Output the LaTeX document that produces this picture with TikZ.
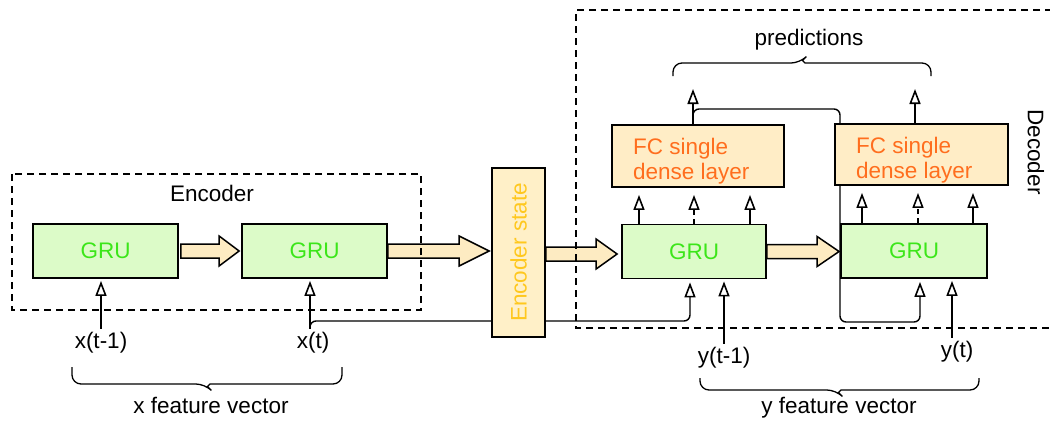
\documentclass[tikz,border=0pt]{standalone}
\usepackage{fontspec}
\setmainfont{Liberation Sans}
\usetikzlibrary{arrows.meta,calc}

\definecolor{grufill}{HTML}{DCFBC8}
\definecolor{grutext}{HTML}{3CE61A}
\definecolor{fcfill}{HTML}{FFEDC6}
\definecolor{fctext}{HTML}{FF6E1E}
\definecolor{esfill}{HTML}{FFF0C8}
\definecolor{estext}{HTML}{FFC81E}
\definecolor{fatfill}{HTML}{FDEBC2}

\tikzset{
  gru/.style={draw, line width=1.8pt, fill=grufill, text=grutext,
    minimum width=145pt, minimum height=54pt, inner sep=0pt},
  fcbox/.style={draw, line width=1.8pt, fill=fcfill,
    minimum width=172pt, minimum height=62pt, inner sep=0pt},
  fctxt/.style={text=fctext, align=left, anchor=west, inner sep=0pt,
    font=\fontsize{22.5}{25}\selectfont},
  esbox/.style={draw, line width=1.8pt, fill=esfill,
    minimum width=53pt, minimum height=169pt, inner sep=0pt},
  region/.style={draw, line width=1.4pt, dash pattern=on 7pt off 5pt},
  feed/.style={line width=1.4pt, -{Triangle[open,length=15pt,width=11pt,line width=1.6pt]}},
  feeddash/.style={feed, dash pattern=on 5pt off 4pt},
  fat/.style={draw, line width=1.5pt, fill=fatfill, line join=miter},
  bracket/.style={draw, line width=1.3pt},
  lbl/.style={text=black},
}

% thick block arrow: start, end, head length
\newcommand\fatarrow[3]{%
  \path[fat] let \p1=(#1), \p2=(#2) in
    (\x1,\y1+7pt) -- (\x2-#3,\y1+7pt) -- (\x2-#3,\y1+15pt) -- (\x2,\y1)
    -- (\x2-#3,\y1-15pt) -- (\x2-#3,\y1-7pt) -- (\x1,\y1-7pt) -- cycle;}

\begin{document}
\begin{tikzpicture}[x=1pt, y=-1pt, font=\fontsize{22.5}{26}\selectfont]
\useasboundingbox (0,0) rectangle (1050,424);

% ---- inputs and output labels
\node[lbl] (x1) at (101,343) {x(t-1)};
\node[lbl] (xt) at (313,343) {x(t)};
\node[lbl] (y1) at (724,358) {y(t-1)};
\node[lbl] (yt) at (957,352) {y(t)};

\coordinate (p1) at (693,89);
\coordinate (p2) at (915,89);

% ---- geometry of the blocks (placed first so lines can refer to them)
\path (105.5,251) node[gru, draw=none, fill=none, text opacity=0] (g1) {GRU};
\path (314.5,251) node[gru, draw=none, fill=none, text opacity=0] (g2) {GRU};
\path (518.5,252.5) node[esbox, draw=none, fill=none] (es) {};
\path (694,251.5) node[gru, minimum width=144pt, draw=none, fill=none, text opacity=0] (d1) {GRU};
\path (914,251) node[gru, minimum width=146pt, draw=none, fill=none, text opacity=0] (d2) {GRU};
\path (698,156) node[fcbox, draw=none, fill=none] (f1) {};
\path (921.5,154.5) node[fcbox, minimum width=173pt, minimum height=61pt, draw=none, fill=none] (f2) {};

% ---- lines that run behind the blocks
\draw[feed, shorten >=3pt, rounded corners=6pt]
  ([xshift=-3pt]xt.north) |- (690,321) -- ([xshift=-4pt]d1.south);
\draw[feed, shorten >=3pt, rounded corners=6pt]
  ([xshift=-5pt]f1.north) |- (840,109) -- (840,322) -| ([xshift=6pt]d2.south);

% ---- blocks
\node[gru] at (g1) {GRU};
\node[gru] at (g2) {GRU};
\node[esbox] at (es) {};
\node[text=estext, rotate=90] at (es.center) {Encoder state};
\node[gru, minimum width=144pt] at (d1) {GRU};
\node[gru, minimum width=146pt] at (d2) {GRU};
\node[fcbox] at (f1) {};
\node[fctxt] at (633,161) {FC single\\dense layer};
\node[fcbox, minimum width=173pt, minimum height=61pt] at (f2) {};
\node[fctxt] at (856,160) {FC single\\dense layer};

% ---- block arrows
\fatarrow{[xshift=2pt]g1.east}{[xshift=-2pt]g2.west}{20pt}
\fatarrow{g2.east}{[xshift=-2pt]es.west}{30pt}
\fatarrow{[yshift=-1.5pt]es.east}{[xshift=-4pt]d1.west}{21pt}
\fatarrow{d1.east}{[xshift=-1pt]d2.west}{22pt}

% ---- inputs
\draw[feed, shorten >=2pt] (x1.north) -- (x1.north |- g1.south);
\draw[feed, shorten >=2pt] ([xshift=-3pt]xt.north) -- ([xshift=-3pt]xt.north |- g2.south);
\draw[feed, shorten >=2pt] (y1.north) -- (y1.north |- d1.south);
\draw[feed, shorten >=2pt] ([xshift=-5pt]yt.north) -- ([xshift=-5pt]yt.north |- d2.south);

% ---- GRU to dense layer
\draw[feed, shorten >=7pt] ([xshift=-55pt]d1.north) -- ([xshift=-55pt]d1.north |- f1.south);
\draw[feeddash, shorten >=7pt] (d1.north) -- (d1.north |- f1.south);
\draw[feed, shorten >=7pt] ([xshift=56pt]d1.north) -- ([xshift=56pt]d1.north |- f1.south);
\draw[feed, shorten >=7pt] ([xshift=-52pt]d2.north) -- ([xshift=-52pt]d2.north |- f2.south);
\draw[feeddash, shorten >=7pt] ([xshift=4pt]d2.north) -- ([xshift=4pt]d2.north |- f2.south);
\draw[feed, shorten >=7pt] ([xshift=59pt]d2.north) -- ([xshift=59pt]d2.north |- f2.south);

% ---- predictions
\draw[feed] ([xshift=-5pt]f1.north) -- (p1);
\draw[feed] ([xshift=-6.5pt]f2.north) -- (p2);

% ---- regions
\path[region] (12,174) rectangle (421,310);
\node[lbl] (enc) at (212,193) {Encoder};
\path[region] (1052,10) -- (576,10) -- (576,328) -- (1052,328);
\node[lbl, rotate=-90] (dec) at (1036,152) {Decoder};

% ---- brackets
\path[bracket] (72,367) [rounded corners=9pt] -- (72,384) -- (205,384)
  [sharp corners] -- (207.5,386.5) -- (210,384) [rounded corners=9pt] -- (342,384) -- (342,367);
\node[lbl] (xfv) at (211,405) {x feature vector};

\path[bracket] (700,378) [rounded corners=9pt] -- (700,390) -- (836,390)
  [sharp corners] -- (838.5,392.5) -- (841,390) [rounded corners=9pt] -- (979,390) -- (979,378);
\node[lbl] (yfv) at (839,408) {y feature vector};

\path[bracket] (673,76) [rounded corners=9pt] -- (673,63) -- (800,63)
  [sharp corners] -- (802.5,60.5) -- (805,63) [rounded corners=9pt] -- (931,63) -- (931,76);
\node[lbl] (pred) at (809,40) {predictions};
\end{tikzpicture}
\end{document}
